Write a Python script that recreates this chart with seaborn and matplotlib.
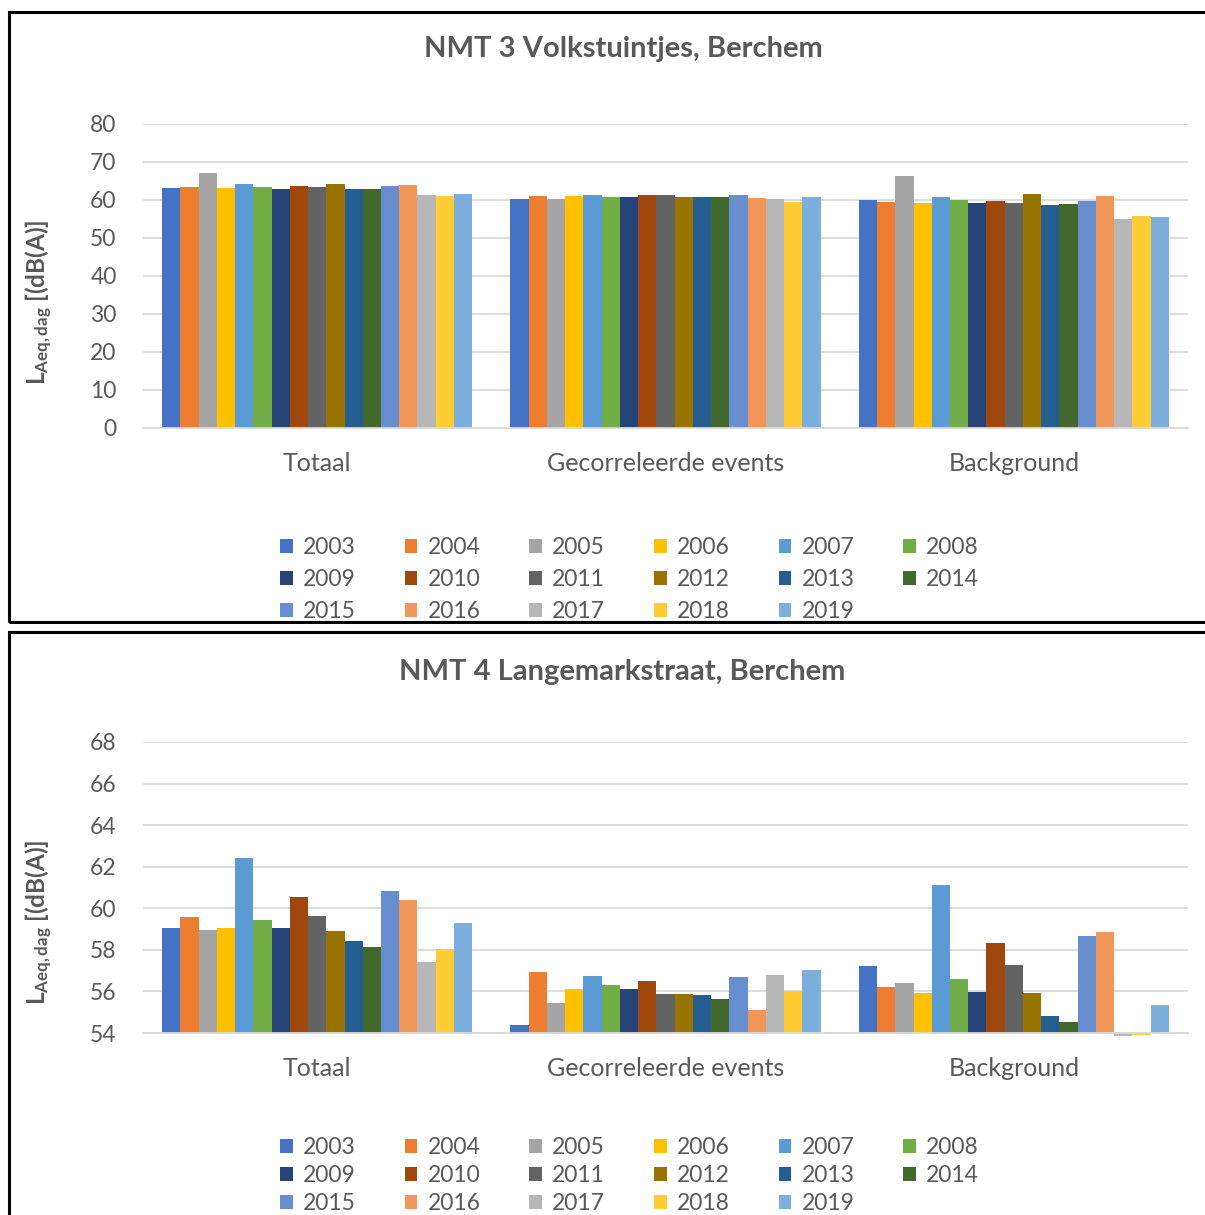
import matplotlib
matplotlib.use("Agg")
import matplotlib.pyplot as plt
import seaborn as sns
import pandas as pd
from matplotlib.patches import Rectangle

categories = ["Totaal", "Gecorreleerde events", "Background"]
years = [str(y) for y in range(2003, 2020)]

nmt3_totaal = [63.1, 63.3, 67.2, 63.1, 64.1, 63.3, 62.9, 63.6, 63.3, 64.1, 63.0, 62.9, 63.7, 63.9, 61.2, 61.0, 61.7]
nmt3_events = [60.2, 61.1, 60.2, 61.0, 61.4, 60.9, 60.7, 61.3, 61.4, 60.7, 60.9, 60.7, 61.4, 60.6, 60.2, 59.6, 60.9]
nmt3_background = [60.1, 59.5, 66.3, 59.2, 60.7, 59.9, 59.1, 59.7, 59.1, 61.7, 58.6, 58.9, 59.7, 61.1, 54.9, 55.8, 55.4]

nmt4_totaal = [59.05, 59.6, 58.97, 59.03, 62.44, 59.45, 59.05, 60.53, 59.63, 58.9, 58.44, 58.13, 60.82, 60.4, 57.4, 58.05, 59.29]
nmt4_events = [54.4, 56.92, 55.42, 56.13, 56.74, 56.29, 56.1, 56.49, 55.87, 55.87, 55.81, 55.63, 56.71, 55.1, 56.78, 56.0, 57.05]
nmt4_background = [57.23, 56.23, 56.42, 55.92, 61.1, 56.6, 55.97, 58.34, 57.26, 55.92, 54.84, 54.53, 58.68, 58.86, 53.87, 53.9, 55.35]

colors = ["#4472C4", "#ED7D31", "#A5A5A5", "#FFC000", "#5B9BD5", "#70AD47",
          "#264478", "#9E480E", "#636363", "#997300", "#255E91", "#43682B",
          "#698ED0", "#F1975A", "#B7B7B7", "#FFCD33", "#7CAFDD"]

title_top = "NMT 3 Volkstuintjes, Berchem"
title_bottom = "NMT 4 Langemarkstraat, Berchem"
ylabel_main = r"$\mathbf{L_{Aeq,dag}}$"
ylabel_rest = " [(dB(A)]"

sns.set_theme(style="white")
plt.rcParams["font.family"] = ["Lato", "DejaVu Sans"]
plt.rcParams["mathtext.fontset"] = "custom"
plt.rcParams["mathtext.rm"] = "Lato"
plt.rcParams["mathtext.bf"] = "Lato:bold"
plt.rcParams["mathtext.it"] = "Lato:italic"

TXT = "#595959"
GRID = "#D9D9D9"


def make_df(a, b, c):
    rows = []
    for cat, vals in zip(categories, [a, b, c]):
        for y, v in zip(years, vals):
            rows.append({"cat": cat, "year": y, "val": v})
    return pd.DataFrame(rows)


W, H = 1205, 1215
fig = plt.figure(figsize=(W / 100, H / 100), dpi=100)


def fx(px):
    return px / W


def fy(py):
    return 1 - py / H


NCOL = 6
n = len(years)
nrows = -(-n // NCOL)
# reorder so matplotlib's column-major legend reads row by row
order = []
for c in range(NCOL):
    for r in range(nrows):
        i = r * NCOL + c
        if i < n:
            order.append(i)


def panel(df, rect, ylim, yticks, base, legend_y, row_sp):
    ax = fig.add_axes(rect)
    sns.barplot(data=df, x="cat", y="val", hue="year", palette=colors,
                order=categories, hue_order=years, width=0.89, dodge=True,
                saturation=1, linewidth=0, errorbar=None, ax=ax)
    if base != 0:
        for p in ax.patches:
            h = p.get_height()
            if h == 0:
                continue
            p.set_y(base)
            p.set_height(h - base)
            p.set_clip_on(False)
    ax.set_ylim(*ylim)
    ax.set_xlim(-0.5, 2.5)
    ax.set_yticks(yticks)
    ax.set_yticklabels([str(t) for t in yticks])
    ax.yaxis.grid(True, color=GRID, linewidth=1.3)
    ax.set_axisbelow(True)
    for s in ["top", "right", "left"]:
        ax.spines[s].set_visible(False)
    ax.spines["bottom"].set_color(GRID)
    ax.spines["bottom"].set_linewidth(1.3)
    ax.tick_params(axis="y", length=0, pad=19, labelsize=16.5, labelcolor=TXT)
    ax.tick_params(axis="x", length=0, pad=17, labelsize=18, labelcolor=TXT)
    ax.set_xlabel("")
    ax.set_ylabel("")
    handles, labels = ax.get_legend_handles_labels()
    ax.legend_.remove()
    handles = [handles[i] for i in order]
    labels = [labels[i] for i in order]
    fig.legend(handles, labels, ncol=NCOL, loc="upper left",
               bbox_to_anchor=(fx(280), fy(legend_y)), frameon=False,
               fontsize=16.5, handlelength=0.55, handleheight=0.55,
               handletextpad=0.45, columnspacing=2.13, labelspacing=row_sp,
               labelcolor=TXT, borderpad=0, borderaxespad=0)
    return ax


ax1 = panel(make_df(nmt3_totaal, nmt3_events, nmt3_background),
            [fx(143), fy(428), fx(1188) - fx(143), fy(124) - fy(428)],
            (0, 80), list(range(0, 81, 10)), 0, 537, 0.48)
ax2 = panel(make_df(nmt4_totaal, nmt4_events, nmt4_background),
            [fx(143), fy(1033), fx(1188) - fx(143), fy(742) - fy(1033)],
            (54, 68), list(range(54, 69, 2)), 54, 1137, 0.3)

fig.text(fx(623), fy(49), title_top, ha="center", va="center",
         fontsize=21, fontweight="bold", color=TXT)
fig.text(fx(622), fy(672), title_bottom, ha="center", va="center",
         fontsize=21, fontweight="bold", color=TXT)

for yc in [302, 922]:
    fig.text(fx(39), fy(yc), ylabel_main + ylabel_rest, rotation=90,
             ha="center", va="center", fontsize=17.5, fontweight="bold", color=TXT)

fig.patches.append(Rectangle((fx(9), fy(622)), 1.1, fy(12) - fy(622),
                             transform=fig.transFigure, fill=False,
                             edgecolor="black", linewidth=2.2, figure=fig))
fig.patches.append(Rectangle((fx(9), -0.05), 1.1, fy(632) + 0.05,
                             transform=fig.transFigure, fill=False,
                             edgecolor="black", linewidth=2.2, figure=fig))

fig.savefig("out.png", dpi=100)
